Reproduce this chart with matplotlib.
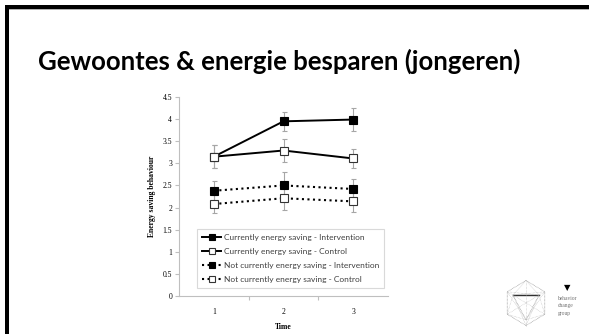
import numpy as np
import matplotlib.pyplot as plt
from matplotlib.patches import Rectangle

# --- data ---
time = [1, 2, 3]
cur_int = [3.15, 3.95, 3.99]
cur_int_err = [0.26, 0.22, 0.27]
cur_ctrl = [3.15, 3.29, 3.11]
cur_ctrl_err = [0.26, 0.25, 0.22]
not_int = [2.38, 2.50, 2.42]
not_int_err = [0.23, 0.30, 0.23]
not_ctrl = [2.08, 2.21, 2.14]
not_ctrl_err = [0.21, 0.27, 0.23]

labels = ['Currently energy saving - Intervention',
          'Currently energy saving - Control',
          'Not currently energy saving - Intervention',
          'Not currently energy saving - Control']
yticks = [0, 0.5, 1, 1.5, 2, 2.5, 3, 3.5, 4, 4.5]
ytick_labels = ['0', '0.5', '1', '1.5', '2', '2.5', '3', '3.5', '4', '4.5']

W, H = 589, 334
fig = plt.figure(figsize=(W / 100, H / 100), dpi=100)
fig.patch.set_facecolor('white')

# slide frame (top + left black bands)
fig.add_artist(Rectangle((5 / W, 1 - 10 / H), 1, 1.2 / H, transform=fig.transFigure,
                         color='#b0b0b0', lw=0))
fig.add_artist(Rectangle((5 / W, 1 - 9 / H), 1, 4 / H, transform=fig.transFigure,
                         color='black', lw=0))
fig.add_artist(Rectangle((8 / W, 0), 1.2 / W, 1 - 9 / H, transform=fig.transFigure,
                         color='#b0b0b0', lw=0))
fig.add_artist(Rectangle((5 / W, 0), 3.5 / W, 1 - 5 / H, transform=fig.transFigure,
                         color='black', lw=0))

# title
fig.text(38 / W, 1 - 61 / H, 'Gewoontes & energie besparen (jongeren)',
         fontsize=18.5, fontweight='bold', family='Lato', color='black',
         va='center', ha='left')

# --- chart ---
ax = fig.add_axes([179 / W, 1 - 296 / H, 209 / W, 199 / H])
serif = 'Liberation Serif'
gray = '#a6a6a6'

series = [
    (cur_int, cur_int_err, '-', 'black'),
    (cur_ctrl, cur_ctrl_err, '-', 'white'),
    (not_int, not_int_err, ':', 'black'),
    (not_ctrl, not_ctrl_err, ':', 'white'),
]
handles = []
for (vals, err, ls, fc), lab in zip(series, labels):
    ax.errorbar(time, vals, yerr=err, fmt='none', ecolor=gray, elinewidth=0.8,
                capsize=1.8, capthick=0.8, zorder=2)
    lw = 1.4 if ls == '-' else 1.5
    h, = ax.plot(time, vals, linestyle=ls, color='black', lw=lw, marker='s',
                 markersize=5.3, markerfacecolor=fc,
                 markeredgecolor='#333333' if fc == 'white' else 'black',
                 markeredgewidth=0.8, zorder=3, label=lab)
    handles.append(h)

ax.set_xlim(0.5, 3.5)
ax.set_ylim(0, 4.5)
ax.set_yticks(yticks)
ax.set_yticklabels(ytick_labels, family=serif, fontsize=5.5)
ax.set_xticks(time)
ax.set_xticklabels([str(t) for t in time], family=serif, fontsize=5.5)
ax.set_xticks([1.5, 2.5], minor=True)
ax.tick_params(axis='x', which='major', length=0, pad=9)
ax.tick_params(axis='x', which='minor', length=3, color='#bfbfbf', width=0.8)
ax.tick_params(axis='y', length=3, color='#bfbfbf', width=0.8, pad=2)
for s in ['top', 'right']:
    ax.spines[s].set_visible(False)
for s in ['left', 'bottom']:
    ax.spines[s].set_color('#bfbfbf')
    ax.spines[s].set_linewidth(0.8)
ax.set_xlabel('Time', family=serif, fontweight='bold', fontsize=5.5, labelpad=5)
ax.set_ylabel('Energy saving behaviour', family=serif, fontweight='bold', fontsize=5.5, labelpad=5)

leg = ax.legend(handles=handles, loc='upper left',
                bbox_to_anchor=(197 / W, 1 - 229 / H), bbox_transform=fig.transFigure,
                borderaxespad=0, frameon=True, fancybox=False,
                prop={'family': 'Lato', 'size': 6.0},
                handlelength=2.3, handletextpad=0.3, labelspacing=0.85, borderpad=0.6,
                markerscale=0.7)
leg.get_frame().set_edgecolor('#d0d0d0')
leg.get_frame().set_linewidth(0.8)
for t in leg.get_texts():
    t.set_color('#404040')
leg.set_zorder(5)

# --- logo (bottom right) ---
lax = fig.add_axes([500 / W, 1 - 330 / H, 52 / W, 54 / H])
lax.set_xlim(-1.2, 1.2)
lax.set_ylim(-1.2, 1.2)
lax.axis('off')
ang = np.deg2rad(np.arange(90, 450, 60))
hx, hy = np.cos(ang), np.sin(ang)
lax.plot(np.append(hx, hx[0]), np.append(hy, hy[0]), color='#909090', lw=0.5, ls=(0, (1, 1)))
tri_x = [-0.6, 0.6, 0.0, -0.6]
tri_y = [0.35, 0.35, -0.75, 0.35]
lax.plot(tri_x, tri_y, color='#909090', lw=0.5, ls=(0, (1, 1)))
lax.plot([-0.6, 0.6], [0.35, 0.35], color='#303030', lw=1.0)
for i in range(6):
    for px, py in zip(tri_x[:3], tri_y[:3]):
        lax.plot([hx[i], px], [hy[i], py], color='#b0b0b0', lw=0.4, ls=(0, (1, 1.5)))
fig.text(567 / W, 1 - 288 / H, '\u25bc', fontsize=6, ha='center', va='center', color='black',
         family='DejaVu Sans')
for i, w in enumerate(['behavior', 'change', 'group']):
    fig.text(558 / W, 1 - (298 + i * 7.5) / H, w, fontsize=4, family=serif,
             color='#707070', ha='left', va='center')

fig.savefig('out.png', dpi=100, facecolor='white')
